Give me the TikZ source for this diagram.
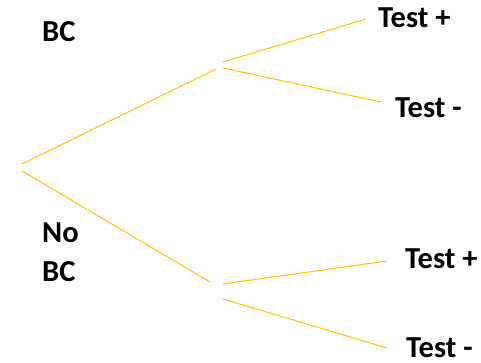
\documentclass[tikz,border=0pt]{standalone}
\usepackage{fontspec}
\setmainfont{Carlito}
\usepackage{xcolor}
\usetikzlibrary{positioning}
\definecolor{colorBranch}{HTML}{FFC000}

\begin{document}
\begin{tikzpicture}[x=1pt,y=-1pt,every node/.append style={align=left},lbl/.style={anchor=base west, inner sep=0pt, text depth=0pt, font=\fontsize{30.5}{39}\selectfont\bfseries},branch/.style={draw=colorBranch, line width=1pt},]
    \useasboundingbox (0,0) rectangle (481,363);
    % root and split points
    \coordinate (r1) at (22,164);
    \coordinate (r2) at (22,171);
    \coordinate (a) at (216,69);
    \coordinate (b) at (210,282);
    \coordinate (a1) at (223,62);
    \coordinate (a2) at (223,68);
    \coordinate (b1) at (223,284);
    \coordinate (b2) at (223,299);
    \coordinate (a1e) at (366,19);
    \coordinate (a2e) at (381,102);
    \coordinate (b1e) at (387,261);
    \coordinate (b2e) at (387,348);
    \path[branch] (r1) edge (a);
    \path[branch] (r2) edge (b);
    \path[branch] (a1) edge (a1e);
    \path[branch] (a2) edge (a2e);
    \path[branch] (b1) edge (b1e);
    \path[branch] (b2) edge (b2e);
    % labels
    \node [lbl] (BC) at (42,42) {BC};
    \node [lbl] (NoBC) at (42,281) {No\\BC};
    \node [lbl] (Tp1) at (378,28) {Test +};
    \node [lbl] (Tn1) at (395,118) {Test -};
    \node [lbl] (Tp2) at (405,268) {Test +};
    \node [lbl] (Tn2) at (406,357) {Test -};
\end{tikzpicture}
\end{document}
